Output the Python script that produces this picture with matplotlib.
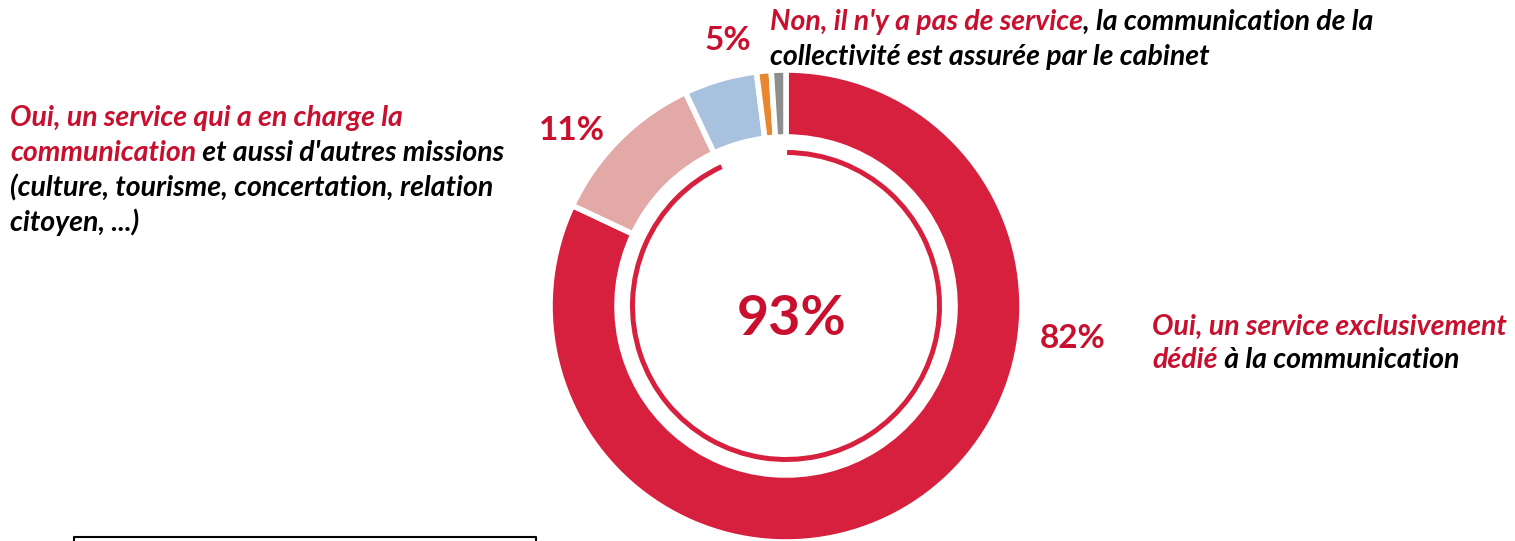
import matplotlib
matplotlib.use("Agg")
import matplotlib.pyplot as plt

# ---- data ----
categories = [
    "Oui, un service exclusivement dédié à la communication",
    "Oui, un service qui a en charge la communication et aussi d'autres missions",
    "Non, il n'y a pas de service, la communication est assurée par le cabinet",
    "Autre",
    "Ne sait pas",
]
values = [82, 11, 5, 1, 1]
colors = ["#D7203D", "#E2A9A7", "#A7C1DF", "#E8872F", "#8E8E8E"]
pct_labels = ["82%", "11%", "5%"]
total_yes = 93
center_label = "93%"

RED_TXT = "#C8102E"
FONT = ["Lato", "DejaVu Sans"]

W, H = 1515, 541
fig = plt.figure(figsize=(W / 100, H / 100), dpi=100)
ax = fig.add_axes([0, 0, 1, 1])

cx, cy = 786, H - 306
R = 236

ax.pie(values, colors=colors, startangle=90, counterclock=False,
       center=(cx, cy), radius=R,
       wedgeprops=dict(width=67, edgecolor="white", linewidth=4))

ax.pie([total_yes, 100 - total_yes], colors=[colors[0], "none"],
       startangle=89.6, counterclock=False, center=(cx, cy), radius=156,
       wedgeprops=dict(width=5, linewidth=0))

ax.set_xlim(0, W)
ax.set_ylim(0, H)
ax.set_aspect("equal")
ax.axis("off")

ax.text(cx + 6, H - 319, center_label, ha="center", va="center",
        fontsize=40, fontweight="bold", color=RED_TXT, family=FONT)

pct_pos = [(1073, H - 338), (572, H - 130), (728, H - 41)]
for lab, (x, y) in zip(pct_labels, pct_pos):
    ax.text(x, y, lab, ha="center", va="center", fontsize=24,
            fontweight="bold", color=RED_TXT, family=FONT)

FS = 20.5


def rainbow(x, y, parts):
    t = ax.text(x, y, parts[0][0], color=parts[0][1], ha="left",
                va="center", fontsize=FS, fontweight="bold",
                fontstyle="italic", family=FONT)
    for s, c in parts[1:]:
        t = ax.annotate(s, xy=(1, 0), xycoords=t, ha="left", va="bottom",
                        color=c, fontsize=FS, fontweight="bold",
                        fontstyle="italic", family=FONT)


# top label
rainbow(770, H - 22, [("Non, il n'y a pas de service", RED_TXT),
                      (", la communication de la", "black")])
rainbow(770, H - 57, [("collectivité est assurée par le cabinet", "black")])

# left label
rainbow(10, H - 118, [("Oui, un service qui a en charge la", RED_TXT)])
rainbow(10, H - 153, [("communication", RED_TXT),
                      (" et aussi d'autres missions", "black")])
rainbow(10, H - 188, [("(culture, tourisme, concertation, relation", "black")])
rainbow(10, H - 222, [("citoyen, ...)", "black")])

# right label
rainbow(1152, H - 327, [("Oui, un service exclusivement", RED_TXT)])
rainbow(1152, H - 360, [("dédié", RED_TXT), (" à la communication", "black")])

# partial box at bottom left
ax.plot([74, 74, 536, 536], [H - 548, H - 537, H - 537, H - 548],
        color="black", linewidth=1.5, clip_on=False)

fig.savefig("out.png", dpi=100)
